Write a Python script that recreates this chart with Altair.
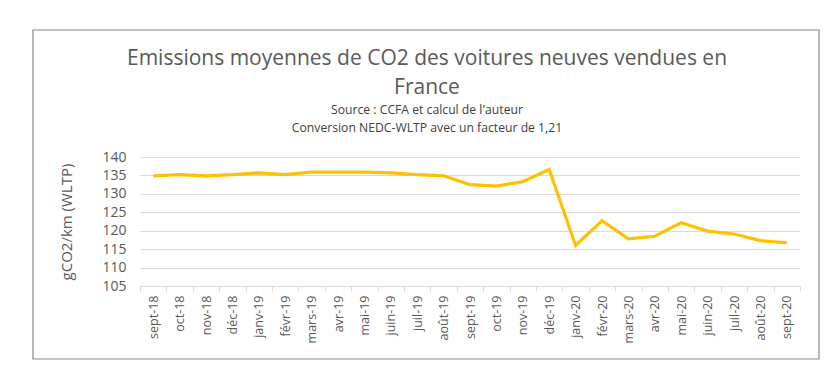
import altair as alt
import pandas as pd

months = ["sept-18", "oct-18", "nov-18", "déc-18", "janv-19", "févr-19", "mars-19",
          "avr-19", "mai-19", "juin-19", "juil-19", "août-19", "sept-19", "oct-19",
          "nov-19", "déc-19", "janv-20", "févr-20", "mars-20", "avr-20", "mai-20",
          "juin-20", "juil-20", "août-20", "sept-20"]
values = [134.9, 135.2, 134.9, 135.2, 135.7, 135.2, 135.9, 135.9, 135.9, 135.7,
          135.2, 134.9, 132.5, 132.1, 133.3, 136.6, 116.0, 122.7, 117.8, 118.5,
          122.2, 119.9, 119.1, 117.3, 116.7]
y_ticks = [105, 110, 115, 120, 125, 130, 135, 140]

df = pd.DataFrame({"mois": months, "valeur": values})

line = alt.Chart(df).mark_line(color="#FFC000", strokeWidth=3.2).encode(
    x=alt.X("mois:N", sort=months, bandPosition=0.5,
            scale=alt.Scale(type="band", paddingInner=0, paddingOuter=0),
            axis=alt.Axis(title=None, labelAngle=-90, labelFontSize=12.5,
                          labelColor="#595959", labelFont="Open Sans",
                          tickBand="extent", tickColor="#d9d9d9", tickSize=5,
                          domainColor="#d9d9d9", labelPadding=4, grid=False)),
    y=alt.Y("valeur:Q", scale=alt.Scale(domain=[105, 140], nice=False, zero=False),
            axis=alt.Axis(values=y_ticks, title="gCO2/km (WLTP)", titleFontSize=15,
                          titleFont="Open Sans", titleFontWeight="normal",
                          titleColor="#595959", titlePadding=27,
                          labelFontSize=14, labelFont="Open Sans", labelColor="#595959",
                          labelPadding=14, ticks=False, domain=False,
                          gridColor="#d9d9d9", gridWidth=1)),
)

border = alt.Chart(pd.DataFrame({"a": [0]})).mark_rect(
    fillOpacity=0, stroke="#898989", strokeWidth=1.2
).encode(x=alt.value(-107), x2=alt.value(679), y=alt.value(-127), y2=alt.value(202))

chart = alt.layer(border, line).properties(
    width=660, height=129,
    autosize=alt.AutoSizeParams(type="none"),
    padding={"left": 132, "top": 149, "right": 24, "bottom": 75},
    title=alt.TitleParams(
        text=["Emissions moyennes de CO2 des voitures neuves vendues en", "France"],
        subtitle=["Source : CCFA et calcul de l'auteur",
                  "Conversion NEDC-WLTP avec un facteur de 1,21"],
        anchor="middle", frame="group", dx=-43, offset=-105, fontSize=21, lineHeight=29,
        font="Open Sans", fontWeight="normal", color="#595959",
        subtitleFont="Open Sans", subtitleFontSize=12.2, subtitleLineHeight=18,
        subtitleColor="#404040", subtitlePadding=6,
    ),
).configure_view(stroke=None)

chart.save("out.html", embed_options={"renderer": "svg", "actions": False})
